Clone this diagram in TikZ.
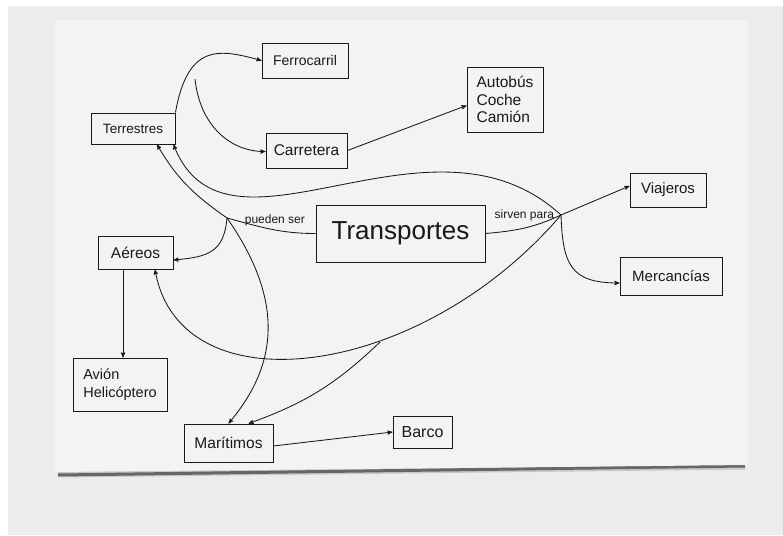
\documentclass[tikz,border=0pt]{standalone}
\usepackage{fontspec}
\setmainfont{Liberation Sans}
\usetikzlibrary{arrows}

\definecolor{paper}{RGB}{243,243,243}
\definecolor{desk}{RGB}{236,236,239}
\definecolor{ink}{RGB}{25,25,25}

\begin{document}
\begin{tikzpicture}[x=1pt,y=-1pt,->,>=stealth',auto,color=ink,line width=0.85pt,
                    map node/.style={rectangle,draw,line width=0.95pt,inner sep=0pt}]

  % scanned card
  \useasboundingbox (0,0) rectangle (783,535);
  \fill[white] (0,0) rectangle (783,535);
  \fill[desk] (8,6) rectangle (783,535);
  \draw[-,line width=7pt,black!22] (58,474) -- (745,466);
  \draw[-,line width=3pt,black!60] (58,475) -- (745,466);
  \fill[paper] (55,20) -- (748,20) -- (748,465) -- (55,472) -- cycle;

  \node[map node,minimum width=169pt,minimum height=57pt,font=\fontsize{26}{30}\selectfont] (1) at (400.5,233.5) {Transportes};
  \node[map node,minimum width=84pt,minimum height=31pt,font=\fontsize{13.5}{16}\selectfont] (2) at (133,128.5) {Terrestres};
  \node[map node,minimum width=86pt,minimum height=35pt,font=\fontsize{14}{16}\selectfont] (3) at (305,60.5) {Ferrocarril};
  \node[map node,minimum width=81pt,minimum height=35pt,font=\fontsize{15.5}{18}\selectfont] (4) at (306.5,150.5) {Carretera};
  \node[map node,minimum width=76pt,minimum height=65pt,align=left,font=\fontsize{15.5}{17.5}\selectfont] (5) at (505,99.5) {Autobús\\Coche\\Camión};
  \node[map node,minimum width=76pt,minimum height=34pt,font=\fontsize{15}{18}\selectfont] (6) at (668,190) {Viajeros};
  \node[map node,minimum width=102pt,minimum height=38pt,font=\fontsize{15}{18}\selectfont] (7) at (671,276) {Mercancías};
  \node[map node,minimum width=75pt,minimum height=33pt,font=\fontsize{15.5}{18}\selectfont] (8) at (135.5,252.5) {Aéreos};
  \node[map node,minimum width=94pt,minimum height=53pt,align=left,font=\fontsize{14.5}{18}\selectfont] (9) at (120,384.5) {Avión\\Helicóptero};
  \node[map node,minimum width=89pt,minimum height=38pt,font=\fontsize{15.5}{18}\selectfont] (10) at (228.5,443) {Marítimos};
  \node[map node,minimum width=59pt,minimum height=32pt,font=\fontsize{16}{18}\selectfont] (11) at (422.5,432) {Barco};

  % branch points
  \coordinate (p) at (227,218);
  \coordinate (s) at (561,215);
  \coordinate (f) at (195,79);
  \coordinate (m) at (380,342);

  \path[every node/.style={font=\fontsize{12}{14}\selectfont}]
    (2.north east) edge [out=80,in=165,out distance=72pt,in distance=42pt] (3.west)
    (f) edge [out=-84,in=180,out distance=46pt,in distance=36pt] ([yshift=-1pt]4.west)
    (4.east) edge ([yshift=-6pt]5.west)
    (1.west) edge [-,out=180,in=-15] node[above,pos=.45] {pueden ser} (p)
    (p) edge [out=145,in=-60] ([xshift=24pt]2.south)
    (p) edge [out=-95,in=5,looseness=1.3] ([yshift=-7.5pt]8.east)
    (p) edge [out=-55,in=50,out distance=110pt,in distance=68pt] (10.north)
    (1.east) edge [-,out=5,in=-155] node[above,pos=.5,yshift=3pt] {sirven para} (s)
    (s) edge ([yshift=4pt]6.west)
    (s) edge [out=-88,in=180,looseness=1.4] ([yshift=-7pt]7.west)
    (s) edge [out=137.5,in=-68.6,out distance=178pt,in distance=145pt] ([xshift=-2pt]2.south east)
    (s) edge [out=-130.5,in=-80,out distance=217pt,in distance=143pt] ([xshift=19.5pt]8.south)
    (m) edge [bend left=12] ([xshift=20pt]10.north)
    ([xshift=-12.5pt]8.south) edge ([xshift=3pt]9.north)
    ([yshift=-3pt]10.east) edge (11.west);
\end{tikzpicture}
\end{document}
